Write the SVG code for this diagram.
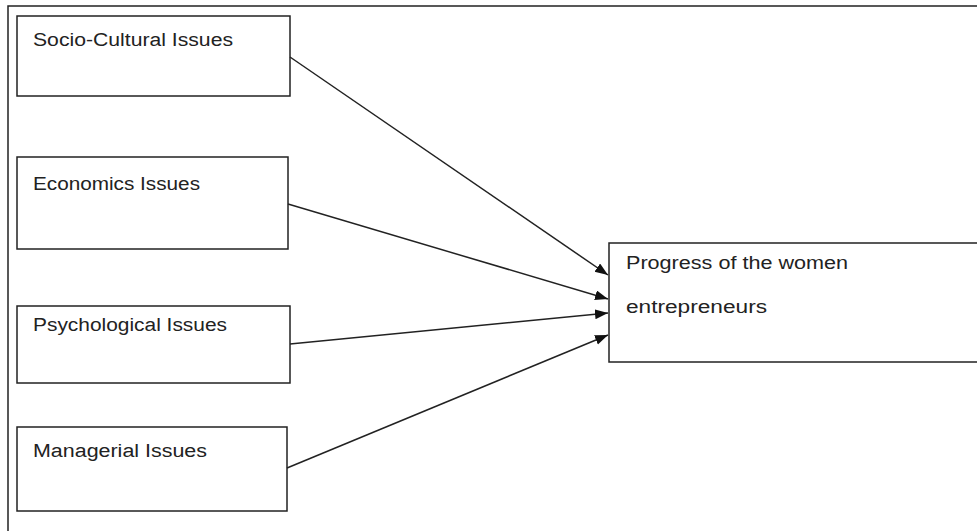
<svg xmlns="http://www.w3.org/2000/svg" width="977" height="531" viewBox="0 0 977 531">
<defs>
<style>
.box{fill:#fff;stroke:#222;stroke-width:1.5}
.frame{fill:none;stroke:#222;stroke-width:1.5}
.lbl{font-family:"Liberation Sans",Arial,sans-serif;font-size:18px;fill:#222}
.conn{stroke:#222;stroke-width:1.5;fill:none;marker-end:url(#arr)}
</style>
<marker id="arr" markerUnits="userSpaceOnUse" markerWidth="14" markerHeight="11" refX="13" refY="5" orient="auto">
<path d="M0,0 L13,5 L0,10 z" fill="#111"/>
</marker>
</defs>
<rect width="977" height="531" fill="#fff"/>
<path class="frame" d="M8,531 L8,6 L977,6"/>
<g id="n1"><rect class="box" x="17" y="16" width="273" height="80"/><text class="lbl" x="33" y="46" textLength="200" lengthAdjust="spacingAndGlyphs">Socio-Cultural Issues</text></g>
<g id="n2"><rect class="box" x="17" y="157" width="271" height="92"/><text class="lbl" x="33" y="190" textLength="167" lengthAdjust="spacingAndGlyphs">Economics Issues</text></g>
<g id="n3"><rect class="box" x="17" y="306" width="273" height="77"/><text class="lbl" x="33" y="331" textLength="194" lengthAdjust="spacingAndGlyphs">Psychological Issues</text></g>
<g id="n4"><rect class="box" x="17" y="427" width="270" height="84"/><text class="lbl" x="33" y="457" textLength="174" lengthAdjust="spacingAndGlyphs">Managerial Issues</text></g>
<g id="n5"><rect class="box" x="609" y="243" width="380" height="119"/><text class="lbl" x="626" y="269" textLength="222" lengthAdjust="spacingAndGlyphs">Progress of the women</text><text class="lbl" x="626" y="313" textLength="141" lengthAdjust="spacingAndGlyphs">entrepreneurs</text></g>
<g id="connectors">
<line class="conn" x1="290" y1="57" x2="608" y2="275"/>
<line class="conn" x1="288" y1="204" x2="608" y2="299"/>
<line class="conn" x1="290" y1="344" x2="608" y2="313"/>
<line class="conn" x1="287" y1="468" x2="608" y2="335"/>
</g>
</svg>
